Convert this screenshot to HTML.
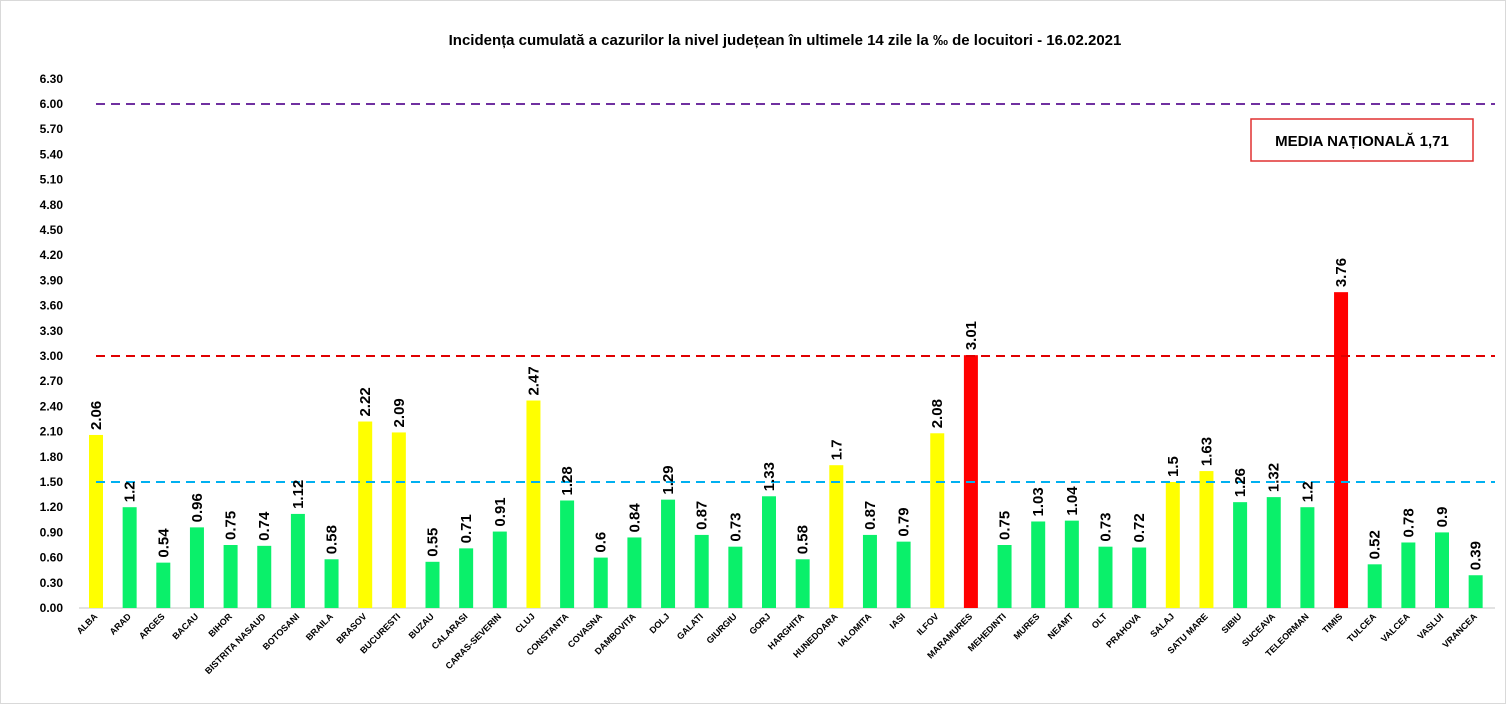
<!DOCTYPE html>
<html><head><meta charset="utf-8"><style>
body{margin:0;background:#fff;width:1507px;height:705px;overflow:hidden}
svg{font-family:"Liberation Sans",Arial,sans-serif}
</style></head><body>
<svg id="c" width="1507" height="705" xmlns="http://www.w3.org/2000/svg">
<rect x="0.5" y="0.5" width="1505" height="703" fill="#fff" stroke="#d9d9d9"/>
<text x="785" y="45" text-anchor="middle" font-size="15" font-weight="bold" fill="#000">Incidența cumulată a cazurilor la nivel județean în ultimele 14 zile la ‰ de locuitori - 16.02.2021</text>
<rect x="1251" y="119" width="222" height="42" fill="#fff" stroke="#e03030" stroke-width="1.5"/>
<text x="1362" y="146" text-anchor="middle" font-size="15" font-weight="bold">MEDIA NAȚIONALĂ  1,71</text>
</svg>
<script>
var s=document.getElementById('c'),ns="http://www.w3.org/2000/svg";
function el(t,a,txt){var e=document.createElementNS(ns,t);for(var k in a)e.setAttribute(k,a[k]);if(txt!=null)e.textContent=txt;s.appendChild(e);return e;}
var y0=608,k=84;
for(var i=0;i<=21;i++){var v=i*0.3;el('text',{x:63,y:y0-v*k+4,'text-anchor':'end','font-size':12,'font-weight':'bold'},v.toFixed(2));}
el('line',{x1:79,y1:y0,x2:1495,y2:y0,stroke:'#d9d9d9','stroke-width':1.5});
var d=[["ALBA",2.06,"Y"],["ARAD",1.2],["ARGES",.54],["BACAU",.96],["BIHOR",.75],["BISTRITA NASAUD",.74],["BOTOSANI",1.12],["BRAILA",.58],["BRASOV",2.22,"Y"],["BUCURESTI",2.09,"Y"],["BUZAU",.55],["CALARASI",.71],["CARAS-SEVERIN",.91],["CLUJ",2.47,"Y"],["CONSTANTA",1.28],["COVASNA",.6],["DAMBOVITA",.84],["DOLJ",1.29],["GALATI",.87],["GIURGIU",.73],["GORJ",1.33],["HARGHITA",.58],["HUNEDOARA",1.7,"Y"],["IALOMITA",.87],["IASI",.79],["ILFOV",2.08,"Y"],["MARAMURES",3.01,"R"],["MEHEDINTI",.75],["MURES",1.03],["NEAMT",1.04],["OLT",.73],["PRAHOVA",.72],["SALAJ",1.5,"Y"],["SATU MARE",1.63,"Y"],["SIBIU",1.26],["SUCEAVA",1.32],["TELEORMAN",1.2],["TIMIS",3.76,"R"],["TULCEA",.52],["VALCEA",.78],["VASLUI",.9],["VRANCEA",.39]];
var col={Y:"#ffff00",R:"#ff0000"};
d.forEach(function(r,i){var cx=96+i*33.65,h=r[1]*k,c=col[r[2]]||"#0af06a";
el('rect',{x:cx-7,y:y0-h,width:14,height:h,fill:c});
el('text',{x:cx+2,y:617,transform:'rotate(-45 '+(cx+2)+' 617)','text-anchor':'end','font-size':9,'font-weight':'bold'},r[0]);
});
el('line',{x1:96,y1:y0-6*k,x2:1495,y2:y0-6*k,stroke:'#7030a0','stroke-width':2,'stroke-dasharray':'9,6'});
el('line',{x1:96,y1:y0-3*k,x2:1495,y2:y0-3*k,stroke:'#e00000','stroke-width':2,'stroke-dasharray':'9,6'});
el('line',{x1:96,y1:y0-1.5*k,x2:1495,y2:y0-1.5*k,stroke:'#00b0f0','stroke-width':2,'stroke-dasharray':'9,6'});
d.forEach(function(r,i){var cx=96+i*33.65,h=r[1]*k;
var ty=y0-h-5;el('text',{x:cx+5,y:ty,transform:'rotate(-90 '+(cx+5)+' '+ty+')','font-size':15,'font-weight':'bold'},String(r[1]));
});
</script>
</body></html>
